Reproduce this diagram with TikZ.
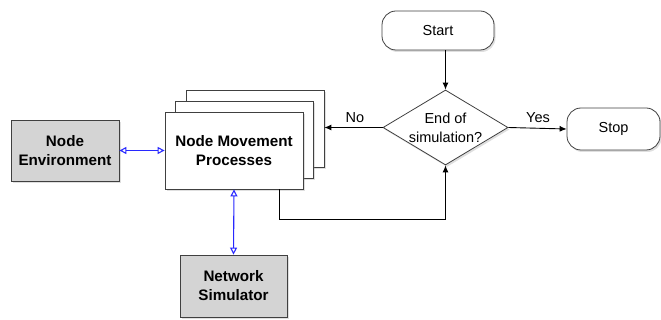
\documentclass[tikz,border=0pt]{standalone}
\usepackage{fontspec}
\setmainfont{Liberation Sans}
\usetikzlibrary{arrows.meta,shapes.geometric,shadows}
\begin{document}
\begin{tikzpicture}[x=1pt,y=-1pt,
  font=\fontsize{14.5}{19}\selectfont,
  shd/.style={drop shadow={shadow xshift=1.5pt,shadow yshift=-2pt,opacity=0.25}},
  boldtext/.style={font=\fontsize{15.2}{19}\selectfont\bfseries},
  graybox/.style={draw=black!75,line width=0.8pt,fill=black!17,align=center,boldtext,inner sep=0pt,shd},
  whitebox/.style={draw=black!75,line width=0.8pt,fill=white,align=center,inner sep=0pt,minimum width=138pt,minimum height=77pt,shd},
  term/.style={draw=black!75,line width=0.8pt,fill=white,rounded corners=14pt,inner sep=0pt,shd},
  decision/.style={draw=black!75,line width=0.8pt,fill=white,diamond,aspect=1.667,inner sep=0pt,minimum width=125pt,minimum height=75pt,align=center,shd},
  flow/.style={draw=black,line width=0.9pt,-{Latex[length=7pt,width=6pt]}},
  link/.style={draw={rgb,255:red,40;green,40;blue,255},line width=1.1pt,{Triangle[open,length=7pt,width=7pt]}-{Triangle[open,length=7pt,width=7pt]}},
  lbl/.style={inner sep=0pt}
]
\useasboundingbox (0,0) rectangle (661,320);

\node[graybox,minimum width=108pt,minimum height=61pt] (env) at (65,150.5) {Node\\Environment};
\node[whitebox] (back) at (255,129) {};
\node[whitebox] (mid) at (244.5,139.5) {};
\node[whitebox,boldtext] (front) at (234,150.5) {Node Movement\\Processes};
\node[graybox,minimum width=107pt,minimum height=62pt] (ns) at (233.5,286) {Network\\Simulator};

\node[term,minimum width=112pt,minimum height=39pt] (start) at (438,30.5) {Start};
\node[decision] (dia) at (445.5,127.5) {End of\\simulation?};
\node[term,minimum width=93pt,minimum height=42pt] (stop) at (613.5,129) {Stop};

\draw[flow] (start.south -| dia.north) -- (dia.north);
\draw[flow] (dia.west) -- (back.east |- dia.west);
\draw[flow] (dia.east) -- (stop.west);
\draw[flow] ([xshift=-24pt]front.south east) -- ++(0,30) -| (dia.south);

\node[lbl] (no) at (355,118) {No};
\node[lbl] (yes) at (538,118) {Yes};

\draw[link] (env.east) -- (front.west);
\draw[link] (front.south) -- (ns.north);
\end{tikzpicture}
\end{document}
